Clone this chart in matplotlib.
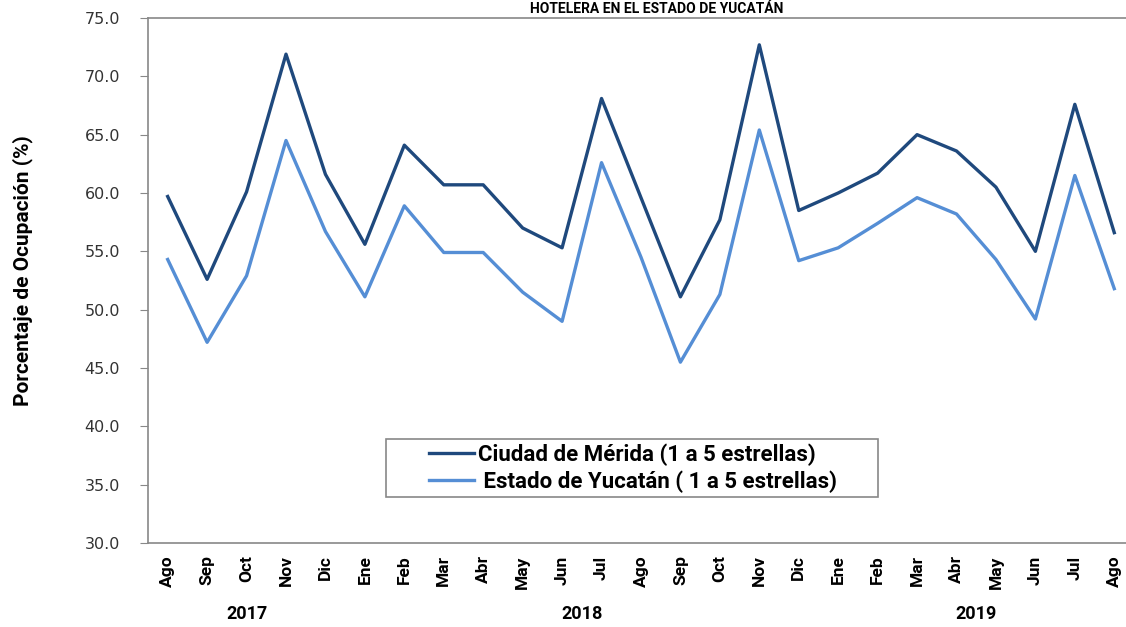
import matplotlib
matplotlib.use("Agg")
import matplotlib.pyplot as plt
from matplotlib.patches import Rectangle
from matplotlib.transforms import blended_transform_factory

meses = ["Ago", "Sep", "Oct", "Nov", "Dic", "Ene", "Feb", "Mar", "Abr", "May", "Jun", "Jul",
         "Ago", "Sep", "Oct", "Nov", "Dic", "Ene", "Feb", "Mar", "Abr", "May", "Jun", "Jul", "Ago"]
merida = [59.7, 52.6, 60.1, 71.9, 61.6, 55.6, 64.1, 60.7, 60.7, 57.0, 55.3, 68.1,
          59.6, 51.1, 57.7, 72.7, 58.5, 60.0, 61.7, 65.0, 63.6, 60.5, 55.0, 67.6, 56.6]
yucatan = [54.3, 47.2, 52.9, 64.5, 56.7, 51.1, 58.9, 54.9, 54.9, 51.5, 49.0, 62.6,
           54.5, 45.5, 51.3, 65.4, 54.2, 55.3, 57.4, 59.6, 58.2, 54.3, 49.2, 61.5, 51.8]
anios = ["2017", "2018", "2019"]
anio_pos = [2, 10.5, 20.5]
yticks = [30, 35, 40, 45, 50, 55, 60, 65, 70, 75]

fig = plt.figure(figsize=(11.26, 6.27), dpi=100)
ax = fig.add_axes([0.1314, 0.134, 0.8757, 0.8373])

x = list(range(len(meses)))
ax.plot(x, merida, color="#1f497d", lw=2.4, label="Ciudad de Mérida (1 a 5 estrellas)")
ax.plot(x, yucatan, color="#558ed5", lw=2.4, label=" Estado de Yucatán ( 1 a 5 estrellas)")

ax.set_xlim(-0.5, len(meses) - 0.5)
ax.set_ylim(30, 75)
ax.set_yticks(yticks)
ax.set_yticklabels([f"{v:.1f}" for v in yticks], fontsize=11.5, color="#333333", family="DejaVu Sans")
ax.set_xticks(x)
ax.set_xticklabels(meses, rotation=90, fontsize=12.5, fontweight="bold", family="Roboto")
ax.tick_params(axis="x", length=0, pad=9)
ax.tick_params(axis="y", length=6, color="#888888", pad=14)

for s in ax.spines.values():
    s.set_color("#888888")
    s.set_linewidth(1.2)

trans = blended_transform_factory(ax.transData, fig.transFigure)
for a, p in zip(anios, anio_pos):
    fig.text(p, 0.006, a, transform=trans, ha="center", va="bottom",
             fontsize=13, fontweight="bold", family="Roboto")

fig.text(0.02, 0.569, "Porcentaje de Ocupación (%)", rotation=90, ha="center", va="center",
         fontsize=15, fontweight="bold", family="Roboto")

# titulo (en la referencia queda casi fuera del marco superior)
fig.text(0.583, 0.9975, "HOTELERA EN EL ESTADO DE YUCATÁN", ha="center", va="top",
         fontsize=10, fontweight="bold", family="Roboto")

# caja de la leyenda, mas ancha que el contenido como en el original
ax.add_patch(Rectangle((0.2414, 0.0876), 0.499, 0.1105, transform=ax.transAxes,
                       facecolor="white", edgecolor="#888888", lw=1.2, zorder=4))
leg = ax.legend(loc="center", bbox_to_anchor=(0.492, 0.143), frameon=False,
                prop={"family": "Roboto", "weight": "bold", "size": 16},
                handlelength=2.0, handletextpad=0.2, borderpad=0.2, labelspacing=0.2,
                borderaxespad=0)
leg.set_zorder(5)

fig.savefig("out.png", dpi=100)
